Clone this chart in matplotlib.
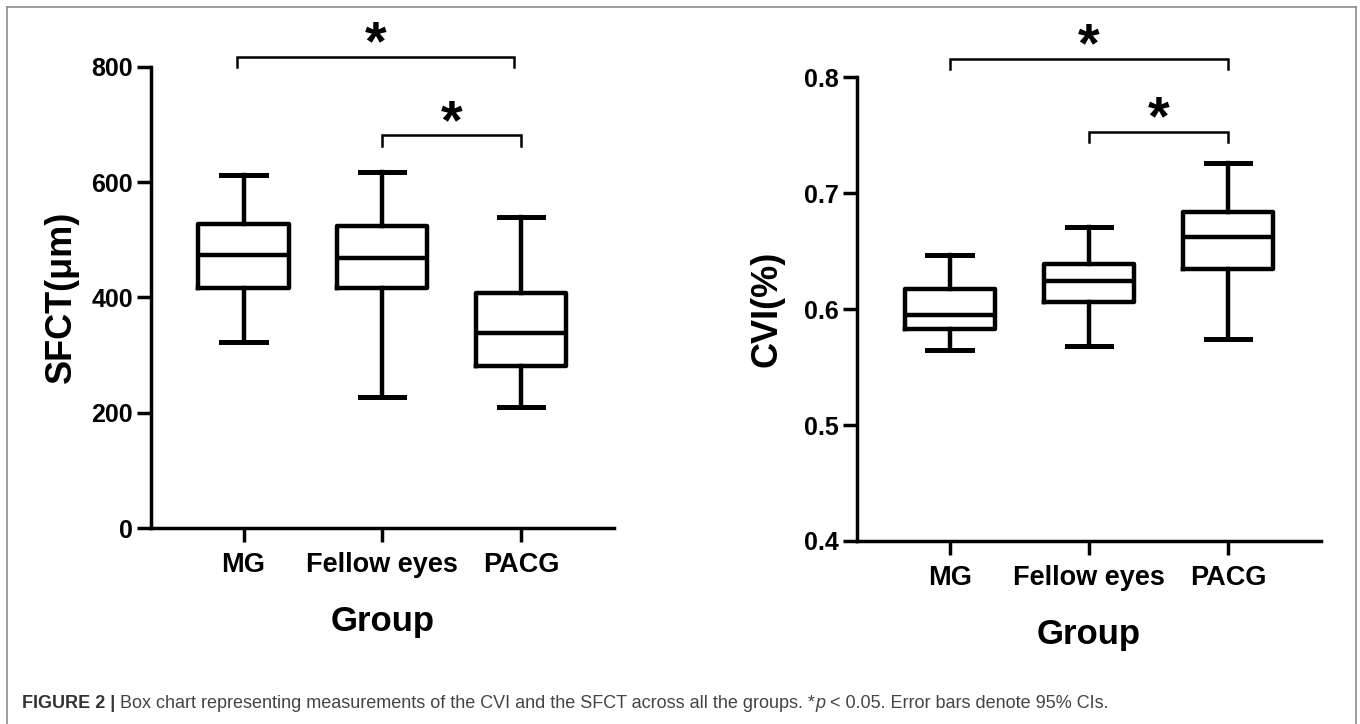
import matplotlib
matplotlib.use("Agg")
import matplotlib.pyplot as plt
from matplotlib.lines import Line2D

plt.rcParams['font.family'] = ['Liberation Sans', 'DejaVu Sans']

# data
groups = ['MG', 'Fellow eyes', 'PACG']

sfct_med = [473, 468, 338]
sfct_q1 = [416, 417, 281]
sfct_q3 = [527, 523, 408]
sfct_lo = [322, 228, 210]
sfct_hi = [613, 617, 540]

cvi_med = [0.595, 0.624, 0.662]
cvi_q1 = [0.583, 0.606, 0.635]
cvi_q3 = [0.617, 0.639, 0.684]
cvi_lo = [0.565, 0.568, 0.574]
cvi_hi = [0.647, 0.671, 0.726]

# significance brackets: (left end, right end, top, leg end)
sfct_sig = [(-0.05, 1.95, 817, 800), (1, 2, 681, 663)]
cvi_sig = [(0, 2, 0.816, 0.807), (1, 2, 0.753, 0.744)]

fig = plt.figure(figsize=(13.6, 7.24), dpi=100)
W, H = 1360, 724


def box_axes(rect, med, q1, q3, lo, hi, sig, ylim, yticks, ylabel, fmt):
    ax = fig.add_axes(rect)
    stats = []
    for i in range(len(groups)):
        stats.append(dict(med=med[i], q1=q1[i], q3=q3[i],
                          whislo=lo[i], whishi=hi[i], label=groups[i]))
    lw = 3.2
    ax.bxp(stats, positions=range(len(groups)), widths=0.65, capwidths=0.32,
           showfliers=False,
           boxprops=dict(color='black', linewidth=lw),
           medianprops=dict(color='black', linewidth=lw),
           whiskerprops=dict(color='black', linewidth=lw),
           capprops=dict(color='black', linewidth=lw + 0.4))
    ax.set_xlim(-0.667, 2.67)
    ax.set_ylim(*ylim)
    ax.set_yticks(yticks)
    ax.set_yticklabels([fmt.format(v) for v in yticks])
    ax.set_xticks(range(len(groups)))
    ax.set_xticklabels(groups, fontsize=19.5, fontweight='bold')
    for lab in ax.get_yticklabels():
        lab.set_fontsize(18)
        lab.set_fontweight('bold')
    ax.tick_params(axis='y', length=10, width=2.5, pad=3)
    ax.tick_params(axis='x', length=10, width=2.5, pad=7)
    for s in ['top', 'right']:
        ax.spines[s].set_visible(False)
    for s in ['left', 'bottom']:
        ax.spines[s].set_linewidth(2.5)
    ax.set_ylabel(ylabel, fontsize=26, fontweight='bold')
    ax.yaxis.set_label_coords(-72 / (rect[2] * W), 0.5)
    ax.set_xlabel('Group', fontsize=25, fontweight='bold', labelpad=20)
    for a, b, top, end in sig:
        ax.plot([a, a, b, b], [end, top, top, end], color='black',
                linewidth=1.8, clip_on=False, solid_joinstyle='miter')
        ax.annotate('*', ((a + b) / 2, top), xytext=(0, -2),
                    textcoords='offset points', ha='center', va='baseline',
                    fontsize=40, fontweight='bold', annotation_clip=False)
    return ax


box_axes([151 / W, 1 - 528 / H, 463 / W, (528 - 66.7) / H],
         sfct_med, sfct_q1, sfct_q3, sfct_lo, sfct_hi, sfct_sig,
         (0, 800), [0, 200, 400, 600, 800], 'SFCT(μm)', '{:d}')
box_axes([857 / W, 1 - 541 / H, 464 / W, (541 - 77.3) / H],
         cvi_med, cvi_q1, cvi_q3, cvi_lo, cvi_hi, cvi_sig,
         (0.4, 0.8), [0.4, 0.5, 0.6, 0.7, 0.8], 'CVI(%)', '{:.1f}')

# frame around the figure panel (open at the bottom)
frame = dict(color='#8c8c8c', linewidth=1.2)
fig.add_artist(Line2D([7 / W, 7 / W], [0, 1 - 7 / H], **frame))
fig.add_artist(Line2D([7 / W, 1356 / W], [1 - 7 / H, 1 - 7 / H], **frame))
fig.add_artist(Line2D([1356 / W, 1356 / W], [0, 1 - 7 / H], **frame))

# caption, drawn piece by piece
pieces = [('FIGURE 2 | ', 'bold', 'normal', '#333333'),
          ('Box chart representing measurements of the CVI and the SFCT across all the groups. *', 'normal', 'normal', '#444444'),
          ('p', 'normal', 'italic', '#444444'),
          (' < 0.05. Error bars denote 95% CIs.', 'normal', 'normal', '#444444')]
fig.canvas.draw()
r = fig.canvas.get_renderer()
x = 22 / W
for txt, wt, st, col in pieces:
    t = fig.text(x, 1 - 703 / H, txt, fontsize=13, fontweight=wt, style=st,
                 color=col, va='center', ha='left')
    bb = t.get_window_extent(renderer=r)
    x += bb.width / W

fig.savefig('out.png', dpi=100)
